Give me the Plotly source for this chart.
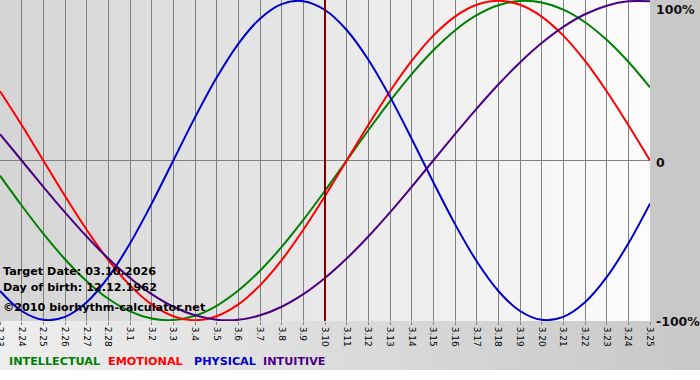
import plotly.graph_objects as go

# ---- data ----
dates = ["2.23", "2.24", "2.25", "2.26", "2.27", "2.28",
         "3.1", "3.2", "3.3", "3.4", "3.5", "3.6", "3.7", "3.8", "3.9", "3.10",
         "3.11", "3.12", "3.13", "3.14", "3.15", "3.16", "3.17", "3.18", "3.19",
         "3.20", "3.21", "3.22", "3.23", "3.24", "3.25"]

intellectual = [-0.0951, -0.2817, -0.4582, -0.6182, -0.7557, -0.8660, -0.9450, -0.9898,
                -0.9989, -0.9718, -0.9096, -0.8146, -0.6901, -0.5406, -0.3717, -0.1893,
                0.0, 0.1893, 0.3717, 0.5406, 0.6901, 0.8146, 0.9096, 0.9718,
                0.9989, 0.9898, 0.9450, 0.8660, 0.7557, 0.6182, 0.4582]

emotional = [0.4339, 0.2225, 0.0, -0.2225, -0.4339, -0.6235, -0.7818, -0.9010,
             -0.9749, -1.0, -0.9749, -0.9010, -0.7818, -0.6235, -0.4339, -0.2225,
             0.0, 0.2225, 0.4339, 0.6235, 0.7818, 0.9010, 0.9749, 1.0,
             0.9749, 0.9010, 0.7818, 0.6235, 0.4339, 0.2225, 0.0]

physical = [-0.8170, -0.9423, -0.9977, -0.9791, -0.8879, -0.7308, -0.5196, -0.2698,
            0.0, 0.2698, 0.5196, 0.7308, 0.8879, 0.9791, 0.9977, 0.9423,
            0.8170, 0.6311, 0.3984, 0.1362, -0.1362, -0.3984, -0.6311, -0.8170,
            -0.9423, -0.9977, -0.9791, -0.8879, -0.7308, -0.5196, -0.2698]

intuitive = [0.1646, 0.0, -0.1646, -0.3247, -0.4759, -0.6142, -0.7357, -0.8372,
             -0.9158, -0.9694, -0.9966, -0.9966, -0.9694, -0.9158, -0.8372, -0.7357,
             -0.6142, -0.4759, -0.3247, -0.1646, 0.0, 0.1646, 0.3247, 0.4759,
             0.6142, 0.7357, 0.8372, 0.9158, 0.9694, 0.9966, 0.9966]

target_label = "3.10"
series_names = ["INTELLECTUAL", "EMOTIONAL", "PHYSICAL", "INTUITIVE"]
y_tick_labels = ["100%", "0", "-100%"]
info_lines = ["Target Date: 03.10.2026", "Day of birth: 12.12.1962",
              "\u00a92010 biorhythm-calculator.net"]

# ---- styling ----
W, H = 700, 380
PL, PR, PT, PB = 0, 50, 0, 59
PW, PH = W - PL - PR, H - PT - PB
colors = {"INTELLECTUAL": "#008000", "EMOTIONAL": "#ff0000",
          "PHYSICAL": "#0000cc", "INTUITIVE": "#4b0082"}
FONT = "DejaVu Sans"

x = list(range(len(dates)))
fig = go.Figure()
for name, vals in zip(series_names, [intellectual, emotional, physical, intuitive]):
    fig.add_trace(go.Scatter(x=x, y=vals, mode="lines", name=name,
                             line=dict(color=colors[name], width=2, shape="spline"),
                             hoverinfo="skip"))

target_idx = dates.index(target_label)
fig.add_trace(go.Scatter(x=[target_idx, target_idx], y=[-1.02, 1.02], mode="lines",
                         line=dict(color="#800000", width=2), hoverinfo="skip",
                         showlegend=False))

shapes = []
# plot area gradient (left grey -> right near white)
N = 65
for i in range(N):
    t = i / (N - 1)
    c = int(round(213 + (252 - 213) * t))
    shapes.append(dict(type="rect", xref="paper", yref="paper",
                       x0=i / N, x1=(i + 1) / N + 0.002, y0=0, y1=1,
                       fillcolor=f"rgb({c},{c},{c})", line=dict(width=0), layer="below"))
# right margin
shapes.append(dict(type="rect", xref="paper", yref="paper", x0=1, x1=W / PW,
                   y0=0, y1=1, fillcolor="#c8c8c8", line=dict(width=0), layer="below"))
# bottom band gradient
M = 70
ybot = -(370 - (PT + PH)) / PH
for i in range(M):
    t = i / (M - 1)
    c = int(round(238 + (200 - 238) * t))
    shapes.append(dict(type="rect", xref="paper", yref="paper",
                       x0=i * (W / PW) / M, x1=(i + 1) * (W / PW) / M + 0.002,
                       y0=ybot, y1=0,
                       fillcolor=f"rgb({c},{c},{c})", line=dict(width=0), layer="below"))

def px_x(p):
    return (p - PL) / PW

def px_y(p):
    return (PT + PH - p) / PH

annotations = []
# right-hand percentage labels
for lbl, py, anchor in zip(y_tick_labels, [0, 163, 322], ["top", "middle", "middle"]):
    annotations.append(dict(text=lbl, xref="paper", yref="paper", x=1, xshift=4,
                            y=px_y(py), xanchor="left", yanchor=anchor, showarrow=False,
                            font=dict(family=FONT, size=12.5, color="#111111", weight="bold")))
# info text
for line, py in zip(info_lines, [271, 287, 307]):
    annotations.append(dict(text=line, xref="paper", yref="paper", x=px_x(1),
                            y=px_y(py), xanchor="left", yanchor="middle", showarrow=False,
                            font=dict(family=FONT, size=11.2, color="#000000", weight="bold")))
# legend words
for name, px0 in zip(series_names, [7, 106, 192, 261]):
    annotations.append(dict(text=name, xref="paper", yref="paper", x=px_x(px0),
                            y=px_y(361), xanchor="left", yanchor="middle", showarrow=False,
                            font=dict(family=FONT, size=11.2, color=colors[name], weight="bold")))

fig.update_layout(
    width=W, height=H,
    margin=dict(l=PL, r=PR, t=PT, b=PB, pad=0, autoexpand=False),
    paper_bgcolor="#ffffff", plot_bgcolor="rgba(0,0,0,0)",
    showlegend=False,
    shapes=shapes, annotations=annotations,
    xaxis=dict(range=[0, len(dates) - 1], tickmode="array", tickvals=x, ticktext=dates,
               tickangle=90, showgrid=True, gridcolor="#808080", gridwidth=1,
               ticks="outside", ticklen=3, tickcolor="#808080", automargin=False,
               ticklabeloverflow="allow",
               tickfont=dict(family=FONT, size=9, color="#000000"),
               zeroline=False, showline=False, fixedrange=True),
    yaxis=dict(range=[-1.005, 1.005], showgrid=False, showticklabels=False,
               zeroline=True, zerolinecolor="#808080", zerolinewidth=1, automargin=False,
               showline=False, fixedrange=True),
)

fig.write_html("out.html", config={"displayModeBar": False},
               post_script="document.body.style.margin='0';document.body.style.overflow='hidden';")
